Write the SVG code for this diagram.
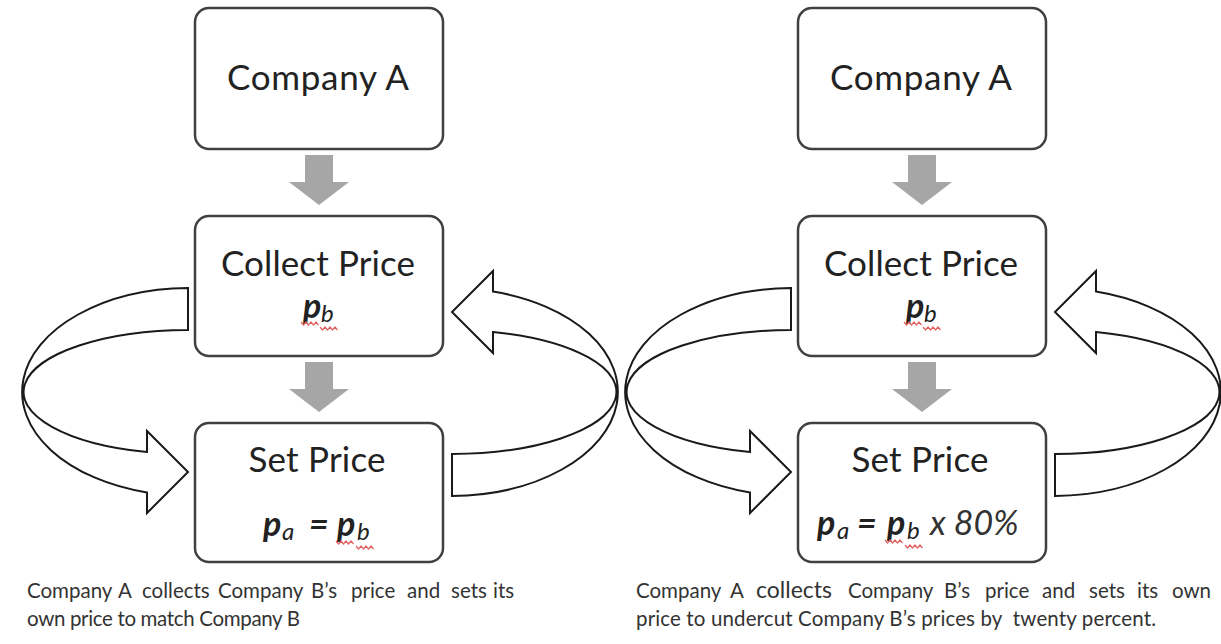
<svg xmlns="http://www.w3.org/2000/svg" xmlns:xlink="http://www.w3.org/1999/xlink" width="1221" height="644" viewBox="0 0 1221 644">
<style>
.box{fill:#fff;stroke:#404040;stroke-width:2.5}
.t{font-family:Lato,"Liberation Sans",sans-serif;fill:#222}
.title{font-size:35px;text-anchor:middle}
.p{font-weight:bold;font-style:italic;font-size:34px}
.sub{font-style:italic;font-size:24px;font-weight:normal}
.mul{font-style:italic;font-size:34px;fill:#333}
.cap{font-size:20.5px;fill:#333}
.gray{fill:#a6a6a6}
.loop{fill:#fff;stroke:#1a1a1a;stroke-width:2}
.sq{fill:none;stroke:#e06060;stroke-width:1.2}
</style>
<defs>
<path id="loopL" d="M188,288 A168,104 0 0 0 147,492.5 L147,513 L188,472 L147,431 L147,452 A165,62 0 0 1 188,330 Z"/>
<path id="down" d="M-14,0 H14 V27 H30 L0,50 L-30,27 H-14 Z"/>
<path id="sqA" d="M0,0 l2.5,3 l2.5,-3 l2.5,3 l2.5,-3 l2.5,3 l2.5,-3 l2.5,3"/>
</defs>
<rect width="1221" height="644" fill="#fff"/>
<g id="connectors">
<use xlink:href="#down" class="gray" transform="translate(319,155)"/>
<use xlink:href="#down" class="gray" transform="translate(319,362)"/>
<use xlink:href="#loopL" class="loop"/>
<use xlink:href="#loopL" class="loop" transform="rotate(180 320 392)"/>
<use xlink:href="#down" class="gray" transform="translate(922,155)"/>
<use xlink:href="#down" class="gray" transform="translate(922,362)"/>
<use xlink:href="#loopL" class="loop" transform="translate(603,0)"/>
<use xlink:href="#loopL" class="loop" transform="translate(603,0) rotate(180 320 392)"/>
</g>
<g id="left-company">
<rect class="box" x="195" y="8" width="248" height="141" rx="14"/>
<text class="t title" x="318" y="90" textLength="182">Company A</text>
</g>
<g id="left-collect">
<rect class="box" x="195" y="216" width="248" height="140" rx="14"/>
<text class="t title" x="318" y="276" textLength="194">Collect Price</text>
<text class="t"><tspan class="p" x="303" y="318">p</tspan><tspan class="sub" x="321" y="322">b</tspan></text>
<use xlink:href="#sqA" class="sq" x="301" y="322"/>
<use xlink:href="#sqA" class="sq" x="320" y="327"/>
</g>
<g id="left-set">
<rect class="box" x="195" y="423" width="248" height="139" rx="14"/>
<text class="t title" x="317" y="472" textLength="137">Set Price</text>
<text class="t"><tspan class="p" x="263" y="536">p</tspan><tspan class="sub" x="282" y="540">a</tspan><tspan class="p" x="309" y="536">=</tspan><tspan class="p" x="337" y="536">p</tspan><tspan class="sub" x="357" y="540">b</tspan></text>
<use xlink:href="#sqA" class="sq" x="336" y="541"/>
<use xlink:href="#sqA" class="sq" x="356" y="546"/>
</g>
<g id="right-company">
<rect class="box" x="798" y="8" width="248" height="141" rx="14"/>
<text class="t title" x="921" y="90" textLength="182">Company A</text>
</g>
<g id="right-collect">
<rect class="box" x="798" y="216" width="248" height="140" rx="14"/>
<text class="t title" x="921" y="276" textLength="194">Collect Price</text>
<text class="t"><tspan class="p" x="906" y="318">p</tspan><tspan class="sub" x="924" y="322">b</tspan></text>
<use xlink:href="#sqA" class="sq" x="904" y="322"/>
<use xlink:href="#sqA" class="sq" x="923" y="327"/>
</g>
<g id="right-set">
<rect class="box" x="798" y="423" width="248" height="139" rx="14"/>
<text class="t title" x="920" y="472" textLength="137">Set Price</text>
<text class="t"><tspan class="p" x="817" y="535">p</tspan><tspan class="sub" x="837" y="539">a</tspan><tspan class="p" x="857" y="535">=</tspan><tspan class="p" x="887" y="535">p</tspan><tspan class="sub" x="907" y="539">b</tspan><tspan class="mul" x="930" y="535">x 80%</tspan></text>
<use xlink:href="#sqA" class="sq" x="885" y="540"/>
<use xlink:href="#sqA" class="sq" x="905" y="545"/>
</g>
<g id="left-caption">
<text class="t cap" y="598"><tspan x="27">Company</tspan><tspan x="118">A</tspan><tspan x="142">collects</tspan><tspan x="218">Company</tspan><tspan x="311">B’s</tspan><tspan x="351">price</tspan><tspan x="407">and</tspan><tspan x="451">sets</tspan><tspan x="493">its</tspan></text>
<text class="t cap" x="27" y="626" textLength="273">own price to match Company B</text>
</g>
<g id="right-caption">
<text class="t cap" y="598"><tspan x="636">Company</tspan><tspan x="730">A</tspan><tspan x="756" font-size="23">collects</tspan><tspan x="848">Company</tspan><tspan x="944">B’s</tspan><tspan x="985">price</tspan><tspan x="1042">and</tspan><tspan x="1089">sets</tspan><tspan x="1137">its</tspan><tspan x="1172">own</tspan></text>
<text class="t cap" x="636" y="626" textLength="520" xml:space="preserve">price to undercut Company B’s prices by  twenty percent.</text>
</g>
</svg>
